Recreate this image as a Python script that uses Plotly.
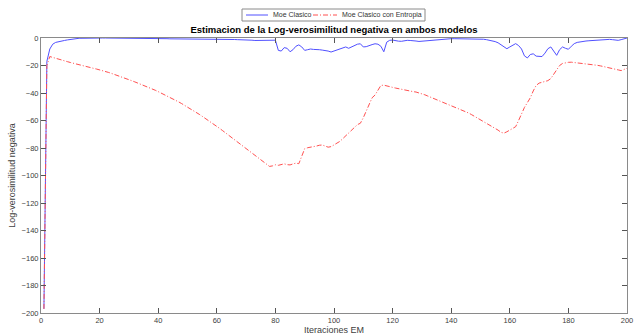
import plotly.graph_objects as go

iterations = list(range(1, 201))

moe_clasico = [
    -197, -17, -8, -4.5, -3.2, -2.6, -2.2, -1.8, -1.4, -1.0,
    -0.7, -0.4, -0.2, -0.2, -0.1, -0.1, 0, 0, 0, 0,
    0, 0, 0, 0, 0, 0, -0.1, -0.1, -0.1, -0.1,
    -0.2, -0.2, -0.2, -0.2, -0.3, -0.3, -0.3, -0.3, -0.4, -0.4,
    -0.5, -0.5, -0.5, -0.6, -0.6, -0.6, -0.7, -0.7, -0.8, -0.8,
    -0.8, -0.9, -0.9, -0.8, -0.7, -0.6, -0.6, -0.7, -0.8, -0.9,
    -0.9, -0.8, -0.8, -0.9, -1.0, -1.1, -1.2, -1.2, -1.1, -1.1,
    -1.3, -1.6, -1.8, -1.8, -1.7, -1.6, -1.6, -1.5, -1.4, -1.6,
    -9, -9.5, -7, -7.5, -10, -8.5, -6, -5, -6.5, -9,
    -8.5, -8, -8.3, -8.2, -8.5, -8.8, -9, -9.5, -10.2, -9.5,
    -8.5, -7.8, -7, -6.5, -7.5, -6.5, -5.5, -4.5, -4.2, -6.5,
    -6.3, -5.3, -4.8, -4.2, -4.5, -6, -10, -3, -1.7, -1.5,
    -2, -2.3, -2.4, -2, -1.7, -1.8, -1.8, -2.2, -2.5, -2.3,
    -1.9, -1.6, -1.4, -1.2, -1.0, -0.8, -0.7, -0.6, -0.6, -0.5,
    -0.5, -0.5, -0.5, -0.5, -0.5, -0.6, -0.6, -0.7, -0.7, -0.8,
    -0.9, -1.2, -1.6, -2.0, -2.6, -3.5, -4.8, -6.5, -7.8, -6.5,
    -5, -4.1, -5.5, -8, -13, -14.5, -12, -11.5, -13.2, -13.5,
    -13.5, -11, -7.8, -6.5, -9.5, -12.6, -8.5, -6.5, -7.5, -8.2,
    -6, -4.1, -3.2, -2.7, -2.4, -2.2, -2.0, -1.8, -1.7, -1.6,
    -1.4, -1.2, -1.0, -1.0, -1.2, -1.5, -1.7, -1.2, -0.4, 0,
]

moe_entropia = [
    -197, -20, -13.5, -14.2, -14.8, -15.4, -16, -16.6, -17.2, -17.8,
    -18.4, -19, -19.6, -20.1, -20.6, -21.1, -21.6, -22.1, -22.6, -23.1,
    -23.7, -24.3, -25, -25.7, -26.4, -27.1, -27.9, -28.7, -29.5, -30.3,
    -31.1, -31.9, -32.7, -33.5, -34.4, -35.3, -36.2, -37.1, -38.0, -39.0,
    -40.0, -41.0, -42.0, -43.1, -44.2, -45.3, -46.5, -47.7, -48.9, -50.2,
    -51.5, -52.8, -54.1, -55.5, -56.9, -58.3, -59.8, -61.3, -62.8, -64.3,
    -65.8, -67.4, -69.0, -70.6, -72.2, -73.8, -75.4, -77.0, -78.6, -80.2,
    -81.8, -83.4, -85.0, -86.6, -88.2, -89.8, -91.6, -93.4, -93.0, -92.2,
    -92.6, -92.0, -91.5, -92.1, -92.3, -91.6, -91.0, -91.4, -86, -80.5,
    -79.8, -79.5, -79.0, -78.6, -78.0, -77.8, -78.6, -79.4, -79.0, -77.8,
    -76.6, -75.2, -73.2, -71.0, -68.8, -66.8, -65.0, -63.0, -62.0, -58.0,
    -53.0, -48.0, -43.5, -41.5, -38.0, -34.5, -34.3, -35.0, -35.5, -35.9,
    -36.4, -36.9, -37.5, -37.8, -38.0, -38.5, -39.0, -39.3, -39.8, -40.5,
    -41.3, -42.2, -43.1, -43.9, -44.7, -45.5, -46.3, -47.2, -48.1, -49.0,
    -49.9, -50.8, -51.7, -52.5, -53.5, -54.6, -55.8, -57.0, -58.2, -59.6,
    -60.9, -62.0, -63.1, -64.3, -65.6, -67.0, -68.6, -69.2, -68.2, -67.0,
    -66.2, -64.5, -60.0, -55.0, -50.5, -47.0, -43.5, -38.5, -34.5, -32.8,
    -32.2, -32.0, -31.0, -29.5, -26.5, -23.5, -20.0, -18.5, -18.0, -17.7,
    -17.6, -17.8, -18.1, -18.3, -18.5, -18.7, -19.0, -19.3, -19.6, -19.9,
    -20.3, -20.7, -21.2, -21.7, -22.2, -22.7, -23.2, -23.7, -23.0, -22.0,
]

series_names = ["Moe Clasico", "Moe Clasico con Entropia"]
x_ticks = [0, 20, 40, 60, 80, 100, 120, 140, 160, 180, 200]
y_ticks = [0, -20, -40, -60, -80, -100, -120, -140, -160, -180, -200]

FONT = "Liberation Sans"
W, H = 642, 335
L, R, T, B = 41, 15, 38, 22
PW, PH = W - L - R, H - T - B

BLUE = "rgb(80,80,255)"
RED = "rgb(255,80,80)"
RED_DASH = "5px,2px,1px,2px"


def px_x(px):
    return (px - L) / PW


def px_y(py):
    return (H - B - py) / PH


fig = go.Figure()
fig.add_trace(go.Scatter(
    x=iterations, y=moe_clasico, mode="lines", name=series_names[0],
    line=dict(color=BLUE, width=1), showlegend=False,
))
fig.add_trace(go.Scatter(
    x=iterations, y=moe_entropia, mode="lines", name=series_names[1],
    line=dict(color=RED, width=1, dash=RED_DASH), showlegend=False,
))

# compact MATLAB-style legend box
shapes = [
    dict(type="rect", xref="paper", yref="paper",
         x0=px_x(242), x1=px_x(425), y0=px_y(21), y1=px_y(9),
         line=dict(color="#8a8a8a", width=1), fillcolor="white", layer="above"),
    dict(type="line", xref="paper", yref="paper",
         x0=px_x(246), x1=px_x(268), y0=px_y(15), y1=px_y(15),
         line=dict(color=BLUE, width=1), layer="above"),
    dict(type="line", xref="paper", yref="paper",
         x0=px_x(313), x1=px_x(337), y0=px_y(15), y1=px_y(15),
         line=dict(color=RED, width=1, dash=RED_DASH), layer="above"),
]
annotations = [
    dict(text=series_names[0], xref="paper", yref="paper", x=px_x(271), y=px_y(15),
         xanchor="left", yanchor="middle", showarrow=False,
         font=dict(family=FONT, size=7, color="#333333")),
    dict(text=series_names[1], xref="paper", yref="paper", x=px_x(340), y=px_y(15),
         xanchor="left", yanchor="middle", showarrow=False,
         font=dict(family=FONT, size=7, color="#333333")),
]

axis_common = dict(
    showgrid=False, zeroline=False, showline=True, linecolor="#8a8a8a",
    linewidth=1, mirror="allticks", ticks="inside", ticklen=5,
    tickcolor="#555555", tickwidth=1, automargin=False,
    tickfont=dict(family=FONT, size=7.5, color="#404040"),
)

fig.update_layout(
    width=W, height=H,
    margin=dict(l=L, r=R, t=T, b=B, autoexpand=False),
    paper_bgcolor="white", plot_bgcolor="white",
    showlegend=False,
    shapes=shapes, annotations=annotations,
    title=dict(
        text="<b>Estimacion de la Log-verosimilitud negativa en ambos modelos</b>",
        font=dict(family=FONT, size=9.5, color="black"),
        x=0.5 * (L + W - R) / W, xanchor="center",
        y=1 - 30 / H, yanchor="middle", automargin=False,
    ),
    xaxis=dict(
        range=[0, 200], tickvals=x_ticks,
        title=dict(text="Iteraciones EM", font=dict(family=FONT, size=9, color="#404040"), standoff=1),
        **axis_common,
    ),
    yaxis=dict(
        range=[-200, 0], tickvals=y_ticks,
        title=dict(text="Log-verosimilitud negativa", font=dict(family=FONT, size=9, color="#404040"), standoff=4),
        **axis_common,
    ),
)

fig.write_html("out.html", config={"displayModeBar": False},
               post_script="document.body.style.margin='0';")
